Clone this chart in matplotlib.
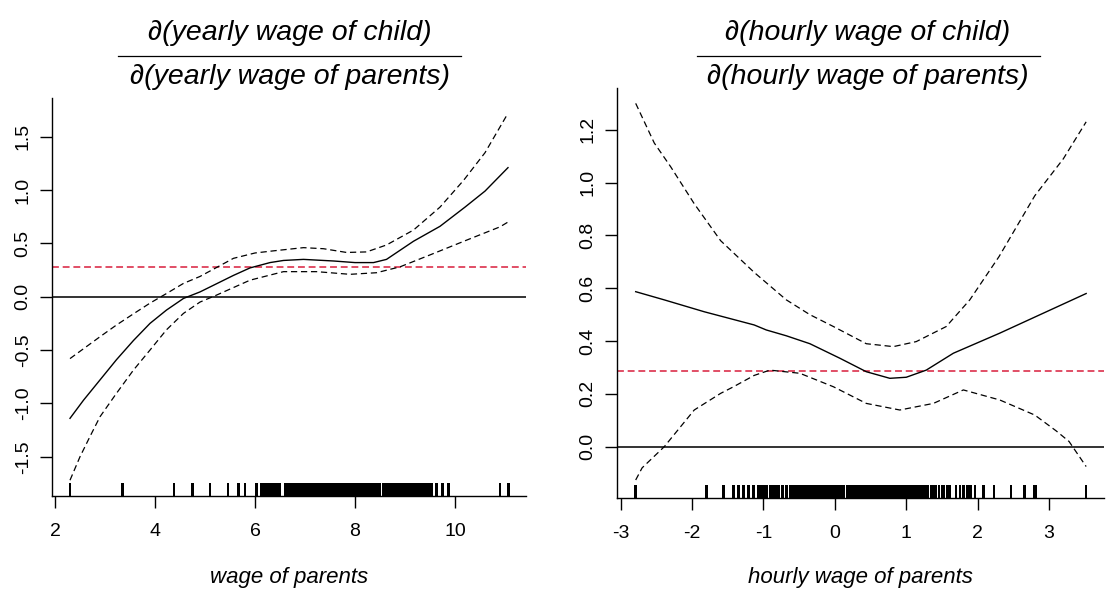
import matplotlib
matplotlib.use("Agg")
import matplotlib.pyplot as plt
from matplotlib.transforms import blended_transform_factory
from matplotlib.lines import Line2D

plt.rcParams["axes.unicode_minus"] = False
plt.rcParams["font.family"] = ["Liberation Sans", "DejaVu Sans"]

# ---------------- left panel data (yearly wage) ----------------
yearly_fit_x = [2.3, 2.57, 2.9, 3.23, 3.57, 3.9, 4.23, 4.57, 4.9, 5.57, 5.9, 6.3, 6.57, 6.97,
                7.57, 8.0, 8.37, 8.63, 9.17, 9.7, 10.2, 10.6, 11.06]
yearly_fit = [-1.14, -0.97, -0.78, -0.59, -0.41, -0.25, -0.125, -0.016, 0.045, 0.20, 0.27, 0.32,
              0.34, 0.35, 0.335, 0.32, 0.32, 0.35, 0.52, 0.66, 0.84, 0.99, 1.21]
yearly_upper_x = [2.3, 2.9, 3.23, 3.57, 3.9, 4.23, 4.57, 4.9, 5.57, 6.0, 6.37, 6.97, 7.37,
                  7.83, 8.23, 8.63, 9.17, 9.7, 10.17, 10.6, 11.06]
yearly_upper = [-0.58, -0.375, -0.265, -0.16, -0.06, 0.03, 0.125, 0.19, 0.36, 0.41, 0.43, 0.46,
                0.45, 0.415, 0.42, 0.485, 0.625, 0.84, 1.09, 1.35, 1.72]
yearly_lower_x = [2.3, 2.5, 2.7, 2.9, 3.23, 3.57, 3.9, 4.23, 4.57, 4.9, 5.23, 5.9, 6.57, 7.23,
                  7.9, 8.43, 8.9, 9.57, 10.23, 10.9, 11.06]
yearly_lower = [-1.72, -1.50, -1.31, -1.125, -0.905, -0.687, -0.50, -0.31, -0.156, -0.05, 0.015,
                0.155, 0.235, 0.235, 0.21, 0.225, 0.28, 0.405, 0.53, 0.655, 0.70]
yearly_ref = 0.28
yearly_rug = [2.30, 3.35, 4.38, 4.75, 5.10, 5.46, 5.67, 5.80, 6.03,
              6.13, 6.17, 6.21, 6.25, 6.28, 6.32, 6.37, 6.41, 6.45, 6.50, 6.60, 6.64, 6.68, 6.72, 6.77,
              6.83, 6.85, 6.87, 6.89, 6.91, 6.93, 6.95, 6.97, 6.99, 7.01, 7.03, 7.05, 7.07,
              7.13, 7.15, 7.18, 7.20, 7.23, 7.25, 7.28, 7.30, 7.33, 7.35, 7.38, 7.40, 7.43, 7.45,
              7.48, 7.50, 7.53, 7.55, 7.58, 7.60, 7.63, 7.65, 7.68, 7.70, 7.73, 7.75, 7.78, 7.80,
              7.83, 7.85, 7.88, 7.90, 7.93, 7.95, 7.98, 8.00, 8.03, 8.05, 8.08, 8.10, 8.13, 8.15,
              8.18, 8.20, 8.23, 8.25, 8.28, 8.30, 8.33, 8.35, 8.38, 8.40, 8.43, 8.45, 8.48, 8.50,
              8.56, 8.58, 8.61, 8.63, 8.66, 8.68, 8.71, 8.73, 8.76, 8.78, 8.81, 8.83, 8.86, 8.88,
              8.91, 8.93, 8.95,
              8.98, 9.03, 9.07, 9.12, 9.16, 9.20, 9.25, 9.30, 9.34, 9.38, 9.42, 9.46, 9.50, 9.53,
              9.63, 9.75, 9.87, 10.90, 11.07]
yearly_xticks = [2, 4, 6, 8, 10]
yearly_yticks = [-1.5, -1.0, -0.5, 0.0, 0.5, 1.0, 1.5]

# ---------------- right panel data (hourly wage) ----------------
hourly_fit_x = [-2.79, -2.39, -1.83, -1.13, -0.96, -0.68, -0.35, 0.07, 0.44, 0.77, 1.0, 1.28,
                1.66, 2.31, 3.52]
hourly_fit = [0.587, 0.556, 0.511, 0.461, 0.442, 0.42, 0.39, 0.335, 0.284, 0.259, 0.263, 0.29,
              0.354, 0.43, 0.58]
hourly_upper_x = [-2.79, -2.53, -2.3, -1.97, -1.6, -1.13, -0.68, -0.35, -0.02, 0.44, 0.82, 1.14,
                  1.56, 1.89, 2.3, 2.8, 3.2, 3.52]
hourly_upper = [1.30, 1.15, 1.06, 0.92, 0.78, 0.66, 0.556, 0.50, 0.455, 0.39, 0.379, 0.398,
                0.455, 0.556, 0.72, 0.95, 1.09, 1.23]
hourly_lower_x = [-2.79, -2.7, -2.39, -1.97, -1.6, -1.42, -1.13, -0.91, -0.49, -0.02, 0.44, 0.91,
                  1.38, 1.8, 2.31, 2.8, 3.1, 3.28, 3.52]
hourly_lower = [-0.126, -0.08, 0.0, 0.139, 0.202, 0.227, 0.27, 0.29, 0.278, 0.227, 0.164, 0.139,
                0.164, 0.215, 0.177, 0.12, 0.06, 0.02, -0.075]
hourly_ref = 0.288
hourly_rug = [-2.79, -1.80, -1.56, -1.42, -1.35, -1.28, -1.21, -1.14, -1.07, -1.05, -1.03, -1.00,
              -0.98, -0.96, -0.91, -0.89, -0.86, -0.84, -0.81, -0.78, -0.73, -0.68, -0.63,
              -0.61, -0.59, -0.57, -0.55, -0.53, -0.51, -0.49, -0.47, -0.45, -0.43, -0.41, -0.39,
              -0.37, -0.35, -0.33, -0.31, -0.29, -0.27, -0.25, -0.23, -0.21, -0.19, -0.17, -0.15,
              -0.13, -0.11, -0.09, -0.07, -0.05, -0.03, -0.01, 0.01, 0.03, 0.05, 0.07, 0.09, 0.11,
              0.13,
              0.17, 0.19, 0.21, 0.23, 0.25, 0.27, 0.29, 0.31, 0.33, 0.35, 0.37, 0.39, 0.41, 0.43,
              0.45, 0.47, 0.49, 0.51, 0.53, 0.55, 0.57, 0.59, 0.61, 0.63, 0.65, 0.67, 0.69, 0.71,
              0.73, 0.75, 0.77, 0.79, 0.81, 0.83, 0.85, 0.87, 0.89, 0.91, 0.93, 0.95, 0.97, 0.99,
              1.01, 1.03, 1.05, 1.07, 1.09, 1.11,
              1.14, 1.17, 1.20, 1.24, 1.28, 1.30, 1.35, 1.38, 1.42, 1.46, 1.50, 1.53, 1.58, 1.61,
              1.70, 1.75, 1.80, 1.86, 1.90, 1.96, 2.08, 2.23, 2.47, 2.66, 2.79, 2.82, 3.52]
hourly_xticks = [-3, -2, -1, 0, 1, 2, 3]
hourly_yticks = [0.0, 0.2, 0.4, 0.6, 0.8, 1.0, 1.2]

left_title = ("∂(yearly wage of child)", "∂(yearly wage of parents)")
right_title = ("∂(hourly wage of child)", "∂(hourly wage of parents)")
left_xlabel = "wage of parents"
right_xlabel = "hourly wage of parents"

W, H = 1108, 598
fig = plt.figure(figsize=(W / 100, H / 100), dpi=100)


def px_axes(x0, x1, y_top, y_bot):
    return fig.add_axes([x0 / W, 1 - y_bot / H, (x1 - x0) / W, (y_bot - y_top) / H])


ax1 = px_axes(52.3, 525.5, 98.3, 496.0)
ax2 = px_axes(616.7, 1104.0, 88.3, 497.7)

RED = "#d81e3c"
TICKFS = 14


def draw_panel(ax, fx, fy, ux, uy, lx, ly, ref, rug, xticks, yticks, xlim, ylim, xlabel, label_y):
    ax.set_xlim(*xlim)
    ax.set_ylim(*ylim)
    ax.axhline(0.0, color="#111111", lw=1.2, zorder=2)
    ax.axhline(ref, color=RED, lw=1.1, dashes=(4.5, 2.5), zorder=2)
    ax.plot(fx, fy, color="black", lw=1.0, zorder=3)
    ax.plot(ux, uy, color="black", lw=0.9, dashes=(5, 3), zorder=3)
    ax.plot(lx, ly, color="black", lw=0.9, dashes=(5, 3), zorder=3)
    tr = blended_transform_factory(ax.transData, ax.transAxes)
    hpx = ax.get_position().height * H
    rl = ax.vlines(rug, 0, 12.7 / hpx, transform=tr, color="black", lw=1.1, zorder=3,
                   antialiased=False)
    rl.set_snap(False)
    for s in ("top", "right"):
        ax.spines[s].set_visible(False)
    for s in ("left", "bottom"):
        ax.spines[s].set_linewidth(1.0)
    ax.set_xticks(xticks)
    ax.set_xticklabels([str(t) for t in xticks], fontsize=TICKFS)
    ax.set_yticks(yticks)
    ax.set_yticklabels(["%.1f" % t for t in yticks], fontsize=TICKFS, rotation=90, va="center")
    ax.tick_params(axis="both", direction="out", length=8.8, width=1.0, color="black")
    ax.tick_params(axis="x", pad=11)
    ax.tick_params(axis="y", pad=6)
    ax.set_xlabel(xlabel, fontsize=16, fontstyle="italic", va="center")
    ax.xaxis.set_label_coords(0.5, label_y)


draw_panel(ax1, yearly_fit_x, yearly_fit, yearly_upper_x, yearly_upper, yearly_lower_x, yearly_lower,
           yearly_ref, yearly_rug, yearly_xticks, yearly_yticks, (1.946, 11.41), (-1.868, 1.86),
           left_xlabel, (496 - 578) / (496 - 98.3))
draw_panel(ax2, hourly_fit_x, hourly_fit, hourly_upper_x, hourly_upper, hourly_lower_x, hourly_lower,
           hourly_ref, hourly_rug, hourly_xticks, hourly_yticks, (-3.056, 3.77), (-0.193, 1.357),
           right_xlabel, (497.7 - 578) / (497.7 - 88.3))


def fraction_title(cx, top, bottom, bx0, bx1):
    fig.text(cx / W, 1 - 33 / H, top, ha="center", va="center", fontsize=20.5, fontstyle="italic")
    fig.text(cx / W, 1 - 77 / H, bottom, ha="center", va="center", fontsize=20.5, fontstyle="italic")
    fig.add_artist(Line2D([bx0 / W, bx1 / W], [1 - 56 / H, 1 - 56 / H], color="black", lw=0.9,
                          transform=fig.transFigure))


fraction_title(290, left_title[0], left_title[1], 118, 461)
fraction_title(868, right_title[0], right_title[1], 697, 1040)

fig.savefig("out.png", dpi=100)
